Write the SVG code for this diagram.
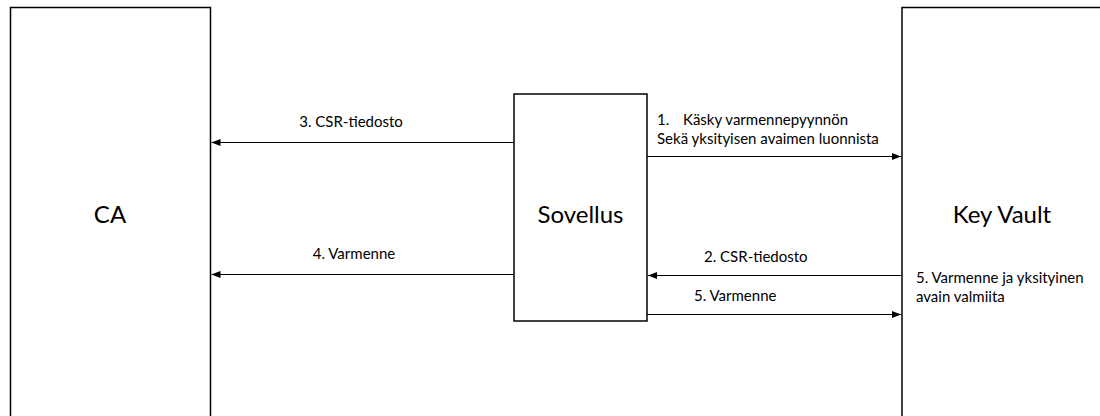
<svg xmlns="http://www.w3.org/2000/svg" width="1100" height="416" viewBox="0 0 1100 416">
  <style>
    .box { fill: #ffffff; stroke: #000000; stroke-width: 1.5; }
    .big { font-family: Lato, "Open Sans", sans-serif; font-size: 24px; fill: #000000; text-anchor: middle; }
    .lbl { font-family: Lato, "Open Sans", sans-serif; font-size: 15px; fill: #000000; }
    .mid { text-anchor: middle; }
    .edge { stroke: #000000; stroke-width: 1; fill: none; marker-end: url(#head); }
  </style>
  <defs>
    <marker id="head" viewBox="0 0 9 7" refX="9" refY="3.5" markerWidth="9" markerHeight="7" markerUnits="userSpaceOnUse" orient="auto">
      <path d="M0,0 L9,3.5 L0,7 Z" fill="#000000"/>
    </marker>
  </defs>
  <rect width="1100" height="416" fill="#ffffff"/>

  <g id="ca">
    <rect class="box" x="10.5" y="7.5" width="200" height="420"/>
    <text class="big" x="110" y="223">CA</text>
  </g>

  <g id="sovellus">
    <rect class="box" x="514" y="94" width="133" height="227"/>
    <text class="big" x="580.5" y="223">Sovellus</text>
  </g>

  <g id="keyvault">
    <rect class="box" x="902" y="7.5" width="210" height="420" stroke-width="2"/>
    <text class="big" x="1002" y="223">Key Vault</text>
    <text class="lbl" x="916" y="283">5. Varmenne ja yksityinen</text>
    <text class="lbl" x="916" y="302">avain valmiita</text>
  </g>

  <g id="connectors">
    <line class="edge" x1="514" y1="142.5" x2="211.5" y2="142.5"/>
    <line class="edge" x1="514" y1="274.5" x2="211.5" y2="274.5"/>
    <line class="edge" x1="647" y1="156.5" x2="901" y2="156.5"/>
    <line class="edge" x1="901" y1="275.5" x2="648" y2="275.5"/>
    <line class="edge" x1="647" y1="314.5" x2="901" y2="314.5"/>
    <text class="lbl mid" x="351" y="127">3. CSR-tiedosto</text>
    <text class="lbl mid" x="354" y="259">4. Varmenne</text>
    <text class="lbl" x="657" y="125">1.</text>
    <text class="lbl" x="683" y="125">Käsky varmennepyynnön</text>
    <text class="lbl" x="657" y="144">Sekä yksityisen avaimen luonnista</text>
    <text class="lbl" x="704" y="262">2. CSR-tiedosto</text>
    <text class="lbl" x="694" y="301">5. Varmenne</text>
  </g>
</svg>
